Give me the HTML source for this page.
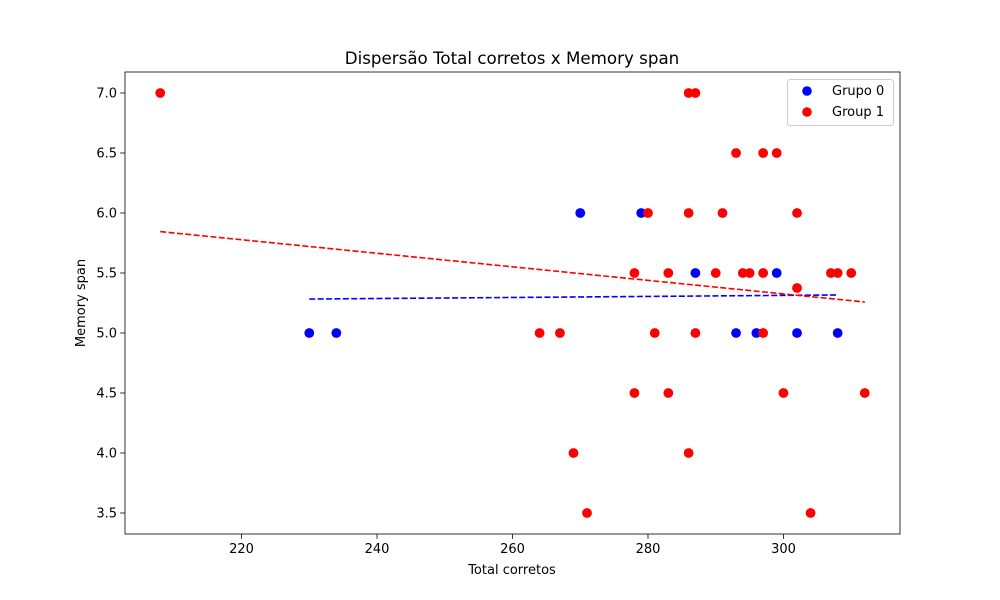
<!DOCTYPE html>
<html><head><meta charset="utf-8"><style>
body{margin:0;background:#fff;}
svg{display:block;font-family:"DejaVu Sans","Liberation Sans",sans-serif;}
</style></head><body>
<svg id="chart" width="1000" height="600">
<rect x="0" y="0" width="1000" height="600" fill="#fff"/>
</svg>
<script>
const g0x=[230,234,270,279,287,293,296,299,302,308];
const g0y=[5,5,6,6,5.5,5,5,5.5,5,5];
const g1x=[208,286,287,293,297,299,280,286,291,302,278,283,290,294,295,297,307,308,310,302,264,267,281,287,297,278,283,300,312,269,286,271,304];
const g1y=[7,7,7,6.5,6.5,6.5,6,6,6,6,5.5,5.5,5.5,5.5,5.5,5.5,5.5,5.5,5.5,5.375,5,5,5,5,5,4.5,4.5,4.5,4.5,4,4,3.5,3.5];
const trend0=[230,5.283,308,5.317];
const trend1=[208,5.845,312,5.258];
const xTicks=[220,240,260,280,300];
const yTicks=[3.5,4.0,4.5,5.0,5.5,6.0,6.5,7.0];
const L=125,R=900,T=72,B=534,xmin=202.8,xmax=317.2,ymin=3.325,ymax=7.175;
const sx=v=>L+(v-xmin)/(xmax-xmin)*(R-L);
const sy=v=>B-(v-ymin)/(ymax-ymin)*(B-T);
const svg=document.getElementById('chart');
const NS='http://www.w3.org/2000/svg';
function mk(t,a){const e=document.createElementNS(NS,t);for(const k in a)e.setAttribute(k,a[k]);svg.appendChild(e);return e;}
function txt(x,y,s,size,anchor,name,extra){const e=mk('text',Object.assign({x:x,y:y,'font-size':size,'text-anchor':anchor,fill:'#000'},extra||{}));e.textContent=s;


return e;}
xTicks.forEach(v=>{const x=sx(v);
const l=mk('line',{x1:x,x2:x,y1:B,y2:B+4.9,stroke:'#000','stroke-width':0.8});


txt(x,B+19,String(v),13,'middle','x-tick-label');});
yTicks.forEach(v=>{const y=sy(v);
const l=mk('line',{x1:L-4.9,x2:L,y1:y,y2:y,stroke:'#000','stroke-width':0.8});


txt(L-8,y+4.5,v.toFixed(1),13,'end','y-tick-label');});
function pts(xs,ys,c,name){xs.forEach((v,i)=>{const e=mk('circle',{cx:sx(v),cy:sy(ys[i]),r:4.9,fill:c});

});}
pts(g0x,g0y,'#0000ff','group0-point');
pts(g1x,g1y,'#ff0000','group1-point');
function tl(t,c,name){const e=mk('line',{x1:sx(t[0]),y1:sy(t[1]),x2:sx(t[2]),y2:sy(t[3]),stroke:c,'stroke-width':1.6,'stroke-dasharray':'6,2.4'});

}
tl(trend0,'#0000ff','group0-trendline');
tl(trend1,'#ff0000','group1-trendline');
const fr=mk('rect',{x:L,y:T,width:R-L,height:B-T,fill:'none',stroke:'#000','stroke-width':0.8});


txt(512,64,'Dispersão Total corretos x Memory span',16.7,'middle','chart-title');
txt(512,574,'Total corretos',13,'middle','x-axis-title');
txt(85,303,'Memory span',13,'middle','y-axis-title',{transform:'rotate(-90 85 303)'});
const lg=mk('rect',{x:787.5,y:79.5,width:106,height:46,rx:3,fill:'#fff',stroke:'#ccc','stroke-width':1});


const c0=mk('circle',{cx:807,cy:91,r:4.8,fill:'#0000ff'});


const c1=mk('circle',{cx:807,cy:112,r:4.8,fill:'#ff0000'});


txt(832,95,'Grupo 0',13,'start','legend-entry-group0');
txt(832,116,'Group 1',13,'start','legend-entry-group1');
</script>
</body></html>
